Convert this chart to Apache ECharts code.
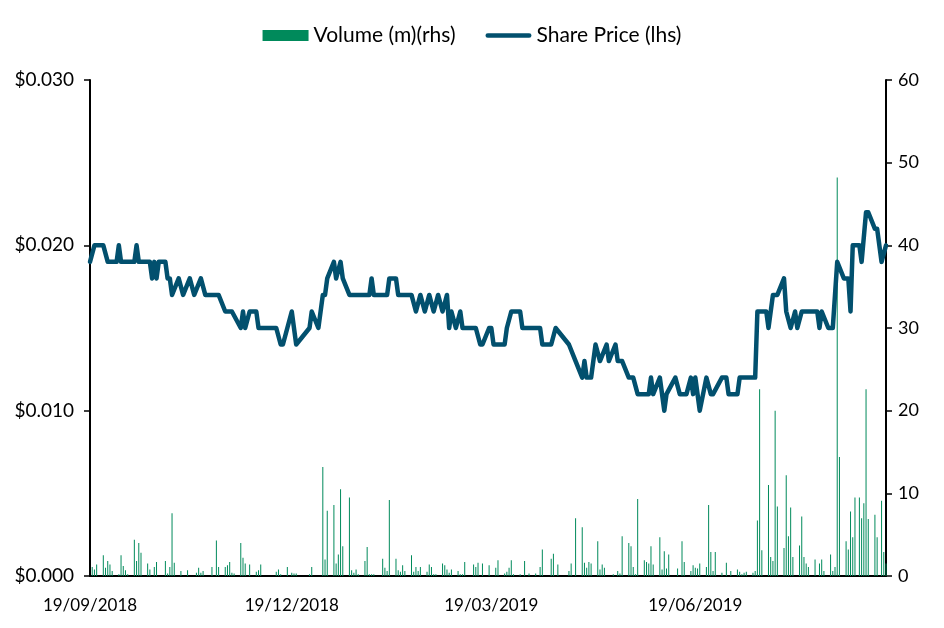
<!DOCTYPE html>
<html>
<head>
<meta charset="utf-8">
<script src="https://cdn.jsdelivr.net/npm/echarts@6/dist/echarts.min.js"></script>
<style>
html,body{margin:0;padding:0;background:#fff;}
#chart{width:944px;height:628px;}
</style>
</head>
<body>
<div id="chart"></div>
<script>
// ---- Data ----
var priceDates = ['2018-09-19','2018-09-21','2018-09-25','2018-09-27','2018-10-01','2018-10-02','2018-10-03','2018-10-09','2018-10-10','2018-10-11','2018-10-16','2018-10-17','2018-10-18','2018-10-19','2018-10-20','2018-10-23','2018-10-24','2018-10-25','2018-10-26','2018-10-29','2018-10-31','2018-11-03','2018-11-05','2018-11-08','2018-11-10','2018-11-16','2018-11-19','2018-11-22','2018-11-26','2018-11-27','2018-11-28','2018-11-30','2018-12-03','2018-12-04','2018-12-12','2018-12-14','2018-12-15','2018-12-17','2018-12-19','2018-12-21','2018-12-27','2018-12-28','2018-12-31','2019-01-02','2019-01-03','2019-01-04','2019-01-07','2019-01-08','2019-01-10','2019-01-11','2019-01-14','2019-01-23','2019-01-24','2019-01-25','2019-01-31','2019-02-01','2019-02-04','2019-02-05','2019-02-11','2019-02-13','2019-02-15','2019-02-17','2019-02-19','2019-02-21','2019-02-23','2019-02-25','2019-02-27','2019-02-28','2019-03-01','2019-03-03','2019-03-05','2019-03-06','2019-03-12','2019-03-14','2019-03-15','2019-03-18','2019-03-19','2019-03-20','2019-03-25','2019-03-26','2019-03-28','2019-04-01','2019-04-02','2019-04-10','2019-04-11','2019-04-15','2019-04-17','2019-04-23','2019-04-26','2019-04-29','2019-04-30','2019-05-01','2019-05-03','2019-05-05','2019-05-07','2019-05-10','2019-05-11','2019-05-14','2019-05-15','2019-05-17','2019-05-20','2019-05-22','2019-05-24','2019-05-29','2019-05-30','2019-05-31','2019-06-03','2019-06-05','2019-06-06','2019-06-10','2019-06-12','2019-06-15','2019-06-17','2019-06-18','2019-06-19','2019-06-21','2019-06-24','2019-06-26','2019-06-27','2019-07-01','2019-07-03','2019-07-04','2019-07-08','2019-07-09','2019-07-16','2019-07-17','2019-07-21','2019-07-22','2019-07-24','2019-07-26','2019-07-29','2019-07-30','2019-08-01','2019-08-03','2019-08-04','2019-08-06','2019-08-13','2019-08-14','2019-08-15','2019-08-18','2019-08-20','2019-08-22','2019-08-25','2019-08-27','2019-08-28','2019-08-29','2019-09-01','2019-09-02','2019-09-04','2019-09-05','2019-09-08','2019-09-09','2019-09-11','2019-09-13'];
var priceValues = [0.019,0.020,0.020,0.019,0.019,0.020,0.019,0.019,0.020,0.019,0.019,0.018,0.019,0.018,0.019,0.019,0.018,0.018,0.017,0.018,0.017,0.018,0.017,0.018,0.017,0.017,0.016,0.016,0.015,0.016,0.015,0.016,0.016,0.015,0.015,0.014,0.014,0.015,0.016,0.014,0.015,0.016,0.015,0.017,0.017,0.018,0.019,0.018,0.019,0.018,0.017,0.017,0.018,0.017,0.017,0.018,0.018,0.017,0.017,0.016,0.017,0.016,0.017,0.016,0.017,0.016,0.017,0.015,0.016,0.015,0.016,0.015,0.015,0.014,0.014,0.015,0.015,0.014,0.014,0.015,0.016,0.016,0.015,0.015,0.014,0.014,0.015,0.014,0.013,0.012,0.013,0.012,0.012,0.014,0.013,0.014,0.013,0.014,0.013,0.013,0.012,0.012,0.011,0.011,0.012,0.011,0.012,0.010,0.011,0.012,0.011,0.011,0.012,0.011,0.012,0.010,0.012,0.011,0.011,0.012,0.012,0.011,0.011,0.012,0.012,0.016,0.016,0.015,0.017,0.017,0.018,0.016,0.015,0.016,0.015,0.016,0.016,0.015,0.016,0.015,0.015,0.019,0.018,0.018,0.016,0.020,0.020,0.019,0.022,0.022,0.021,0.021,0.019,0.020];

var volumeDates = ['2018-09-20','2018-09-21','2018-09-22','2018-09-25','2018-09-26','2018-09-27','2018-09-28','2018-09-29','2018-10-02','2018-10-03','2018-10-04','2018-10-05','2018-10-06','2018-10-09','2018-10-10','2018-10-11','2018-10-12','2018-10-15','2018-10-16','2018-10-18','2018-10-19','2018-10-23','2018-10-24','2018-10-25','2018-10-26','2018-10-27','2018-10-30','2018-11-02','2018-11-06','2018-11-07','2018-11-08','2018-11-09','2018-11-13','2018-11-15','2018-11-16','2018-11-19','2018-11-20','2018-11-21','2018-11-22','2018-11-23','2018-11-26','2018-11-27','2018-11-28','2018-11-30','2018-12-03','2018-12-04','2018-12-05','2018-12-12','2018-12-13','2018-12-14','2018-12-17','2018-12-19','2018-12-20','2018-12-21','2018-12-27','2018-12-28','2019-01-02','2019-01-03','2019-01-04','2019-01-07','2019-01-08','2019-01-09','2019-01-10','2019-01-11','2019-01-14','2019-01-15','2019-01-16','2019-01-17','2019-01-18','2019-01-21','2019-01-22','2019-01-23','2019-01-24','2019-01-25','2019-01-29','2019-01-30','2019-01-31','2019-02-01','2019-02-04','2019-02-05','2019-02-06','2019-02-07','2019-02-08','2019-02-11','2019-02-12','2019-02-13','2019-02-14','2019-02-15','2019-02-18','2019-02-19','2019-02-20','2019-02-21','2019-02-22','2019-02-25','2019-02-26','2019-02-27','2019-02-28','2019-03-01','2019-03-04','2019-03-05','2019-03-06','2019-03-07','2019-03-11','2019-03-12','2019-03-13','2019-03-15','2019-03-18','2019-03-21','2019-03-22','2019-03-25','2019-03-26','2019-03-27','2019-03-28','2019-03-29','2019-04-01','2019-04-03','2019-04-05','2019-04-08','2019-04-10','2019-04-11','2019-04-15','2019-04-16','2019-04-18','2019-04-23','2019-04-24','2019-04-26','2019-04-29','2019-04-30','2019-05-01','2019-05-02','2019-05-03','2019-05-06','2019-05-07','2019-05-08','2019-05-09','2019-05-13','2019-05-15','2019-05-16','2019-05-17','2019-05-20','2019-05-21','2019-05-22','2019-05-23','2019-05-24','2019-05-27','2019-05-28','2019-05-29','2019-05-30','2019-05-31','2019-06-03','2019-06-04','2019-06-05','2019-06-06','2019-06-07','2019-06-11','2019-06-13','2019-06-14','2019-06-17','2019-06-18','2019-06-19','2019-06-20','2019-06-21','2019-06-24','2019-06-25','2019-06-26','2019-06-27','2019-06-28','2019-07-01','2019-07-03','2019-07-05','2019-07-08','2019-07-09','2019-07-10','2019-07-11','2019-07-12','2019-07-15','2019-07-16','2019-07-17','2019-07-18','2019-07-19','2019-07-22','2019-07-23','2019-07-24','2019-07-25','2019-07-26','2019-07-29','2019-07-30','2019-07-31','2019-08-01','2019-08-02','2019-08-05','2019-08-06','2019-08-07','2019-08-08','2019-08-09','2019-08-12','2019-08-14','2019-08-15','2019-08-16','2019-08-19','2019-08-20','2019-08-21','2019-08-22','2019-08-23','2019-08-26','2019-08-27','2019-08-28','2019-08-29','2019-08-30','2019-09-01','2019-09-02','2019-09-03','2019-09-04','2019-09-05','2019-09-08','2019-09-09','2019-09-11','2019-09-12','2019-09-13'];
var volumeValues = [1.1,0.8,1.4,2.5,1.0,1.8,1.4,0.6,0.2,2.5,1.2,0.7,0.2,4.4,1.8,4.0,2.8,1.5,0.8,1.1,1.7,1.8,0.3,1.1,7.6,1.6,0.6,0.7,0.4,1.0,0.4,0.6,1.1,4.3,1.1,1.1,1.3,1.7,0.4,0.3,4.0,2.2,1.5,1.4,0.5,0.7,1.4,0.5,0.8,0.2,1.1,0.4,0.3,0.3,0.2,1.1,13.2,2.0,7.9,8.6,1.5,2.6,10.5,3.6,9.5,0.7,0.4,0.8,0.2,1.8,3.5,0.2,0.2,0.2,2.1,1.0,0.6,9.2,2.1,0.7,0.5,1.3,0.6,2.5,0.5,1.1,0.6,1.1,0.5,1.4,1.1,0.2,0.2,1.5,1.3,0.8,0.4,0.8,0.6,0.2,0.2,1.7,1.4,1.1,1.6,1.5,1.3,1.0,1.9,0.3,0.5,1.0,1.9,0.2,0.2,1.8,0.3,0.3,1.1,3.2,2.1,2.7,1.4,0.6,1.5,7.0,5.9,1.6,1.0,1.7,1.5,4.2,0.8,1.4,1.0,0.2,0.6,0.3,4.8,4.0,3.6,1.1,0.2,9.3,1.9,1.7,1.5,3.6,1.4,4.7,0.8,3.0,0.9,2.6,0.9,4.2,1.7,0.6,1.3,1.0,0.9,1.5,1.1,8.6,2.9,0.6,2.9,0.4,1.6,0.6,0.8,0.5,0.2,0.4,0.5,0.4,0.6,6.7,22.6,3.1,11.0,2.3,1.8,20.0,8.4,3.4,12.2,4.8,8.3,2.3,3.7,7.2,2.3,1.5,1.1,2.0,1.5,2.0,0.6,2.6,0.6,1.1,48.2,14.4,4.2,3.2,7.8,4.7,9.5,9.5,7.0,8.8,22.6,6.9,7.4,4.7,9.1,2.9,1.5];

var axisStart = '2018-09-19';
var axisEnd = '2019-09-13';
var xLabelDates = ['2018-09-19','2018-12-19','2019-03-19','2019-06-19'];
var leftTicks = {min: 0, max: 0.03, interval: 0.01};
var rightTicks = {min: 0, max: 60, interval: 10};

// ---- Helpers ----
function ts(s){ var p = s.split('-'); return new Date(+p[0], +p[1]-1, +p[2]).getTime(); }
function pad(n){ return (n < 10 ? '0' : '') + n; }
function fmtDate(v){ var d = new Date(v); return pad(d.getDate()) + '/' + pad(d.getMonth()+1) + '/' + d.getFullYear(); }

var priceData = priceDates.map(function(d, i){ return [ts(d), priceValues[i]]; });
var volumeData = volumeDates.map(function(d, i){ return [ts(d), volumeValues[i]]; });

var FONT = 'Lato';
var GREEN = '#008A5B';
var BLUE = '#02506E';
var chart = echarts.init(document.getElementById('chart'), null, {renderer: 'canvas'});
chart.setOption({
  animation: false,
  backgroundColor: '#ffffff',
  legend: {
    top: 20,
    left: 'center',
    itemWidth: 46,
    itemHeight: 11,
    itemGap: 30,
    symbolKeepAspect: true,
    textStyle: {fontFamily: FONT, fontSize: 21, color: '#000'},
    data: [
      {name: 'Volume (m)(rhs)', icon: 'rect'},
      {name: 'Share Price (lhs)', icon: 'path://M2.5,0 L47.5,0 A2.5,2.5 0 0 1 47.5,5 L2.5,5 A2.5,2.5 0 0 1 2.5,0 Z'}
    ]
  },
  grid: {left: 90, right: 58, top: 80, bottom: 52, containLabel: false},
  xAxis: {
    type: 'value',
    min: ts(axisStart),
    max: ts(axisEnd),
    scale: true,
    axisLine: {show: true, onZero: false, lineStyle: {color: '#000', width: 2}},
    axisTick: {show: false},
    splitLine: {show: false},
    axisLabel: {
      customValues: xLabelDates.map(ts),
      formatter: function(v){ return fmtDate(v); },
      fontFamily: FONT, fontSize: 17, color: '#000', margin: 21
    }
  },
  yAxis: [
    {
      type: 'value', position: 'left',
      min: leftTicks.min, max: leftTicks.max, interval: leftTicks.interval,
      axisLine: {show: true, lineStyle: {color: '#000', width: 2}},
      axisTick: {show: true, inside: false, length: 6, lineStyle: {color: '#000', width: 1.5}},
      splitLine: {show: false},
      axisLabel: {formatter: function(v){ return '$' + v.toFixed(3); }, fontFamily: FONT, fontSize: 19, color: '#000', margin: 16}
    },
    {
      type: 'value', position: 'right',
      min: rightTicks.min, max: rightTicks.max, interval: rightTicks.interval,
      axisLine: {show: true, lineStyle: {color: '#000', width: 2}},
      axisTick: {show: true, inside: false, length: 6, lineStyle: {color: '#000', width: 1.5}},
      splitLine: {show: false},
      axisLabel: {fontFamily: FONT, fontSize: 18, color: '#000', margin: 12}
    }
  ],
  series: [
    {
      name: 'Volume (m)(rhs)',
      type: 'bar',
      yAxisIndex: 1,
      barWidth: 1,
      itemStyle: {color: GREEN},
      data: volumeData
    },
    {
      name: 'Share Price (lhs)',
      type: 'line',
      yAxisIndex: 0,
      showSymbol: false,
      symbol: 'none',
      lineStyle: {color: BLUE, width: 4.5, cap: 'round', join: 'round'},
      itemStyle: {color: BLUE},
      data: priceData,
      z: 3
    }
  ]
});
</script>
</body>
</html>
